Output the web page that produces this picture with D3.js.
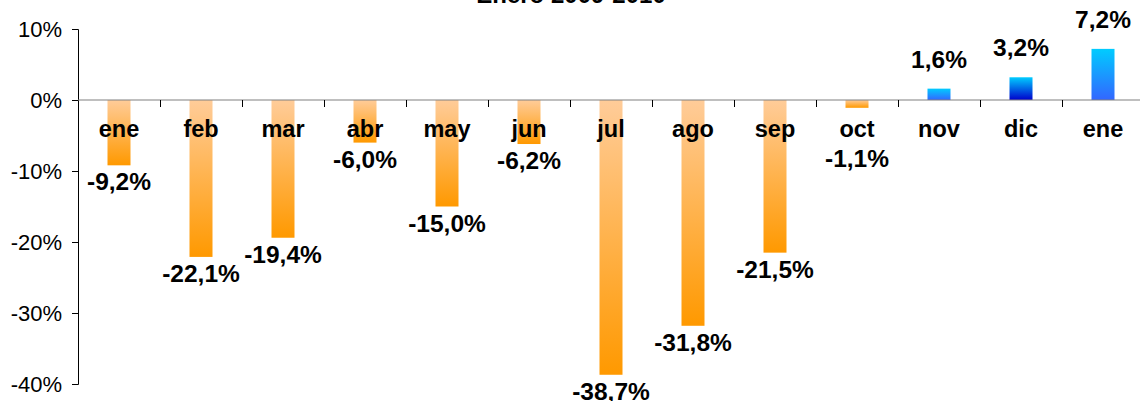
<!DOCTYPE html>
<html><head><meta charset="utf-8">
<script src="https://cdn.jsdelivr.net/npm/d3@7"></script>
<style>body{margin:0;background:#fff;}svg{display:block;font-family:"Liberation Sans",Arial,sans-serif;}</style>
</head><body>
<svg id="c" width="1140" height="401"></svg>
<script>
const title = "Enero 2009-2010";
const categories = ["ene","feb","mar","abr","may","jun","jul","ago","sep","oct","nov","dic","ene"];
const values = [-9.2,-22.1,-19.4,-6.0,-15.0,-6.2,-38.7,-31.8,-21.5,-1.1,1.6,3.2,7.2];
const yTicks = [10,0,-10,-20,-30,-40];
const posBottomColors = ["#3366FF","#0000CC","#3366FF"];

const svg = d3.select("#c");
const x = d3.scaleBand().domain(d3.range(categories.length)).range([78,1144]);
const y = d3.scaleLinear().domain([-40,10]).range([384,29]);
const fmt = v => (v.toFixed(1).replace(".", ",")) + "%";

const defs = svg.append("defs");
const og = defs.append("linearGradient").attr("id","gOrange").attr("x1",0).attr("y1",0).attr("x2",0).attr("y2",1);
og.append("stop").attr("offset","0%").attr("stop-color","#FFCC99");
og.append("stop").attr("offset","100%").attr("stop-color","#FF9900");
posBottomColors.forEach((c,i)=>{
  const g = defs.append("linearGradient").attr("id","gBlue"+i).attr("x1",0).attr("y1",0).attr("x2",0).attr("y2",1);
  g.append("stop").attr("offset","0%").attr("stop-color","#00CCFF");
  g.append("stop").attr("offset","100%").attr("stop-color",c);
});

// title (mostly clipped at top, as in the reference)
svg.append("text").attr("x",571).attr("y",3).attr("text-anchor","middle")
  .attr("font-weight","bold").attr("font-size",24).text(title);

// bars
const bw = 23;
let posIdx = 0;
const fills = values.map(v => v < 0 ? "url(#gOrange)" : "url(#gBlue" + (posIdx++) + ")");
svg.append("g").selectAll("rect").data(values).join("rect")
  .attr("x",(d,i)=>x(i)+x.bandwidth()/2-bw/2)
  .attr("width",bw)
  .attr("y",d=>Math.min(y(d),y(0)))
  .attr("height",d=>Math.abs(y(d)-y(0)))
  .attr("fill",(d,i)=>fills[i]);

// y axis
const ya = d3.axisLeft(y).tickValues(yTicks).tickSize(6).tickPadding(10).tickFormat(d=>d+"%");
const yg = svg.append("g").attr("transform","translate(78,0)").call(ya);
yg.select(".domain").attr("stroke","#000").attr("d","M-6,29.5H0.5V384.5H-6");
yg.selectAll(".tick line").attr("stroke","#000");
yg.selectAll(".tick text").attr("font-size",22).attr("font-family","Liberation Sans, Arial, sans-serif").attr("fill","#000");

// zero line with ticks at band boundaries
const zg = svg.append("g");
zg.append("line").attr("x1",78).attr("x2",1140).attr("y1",y(0)).attr("y2",y(0)).attr("stroke","#808080").attr("stroke-width",1.2);
zg.selectAll("line.t").data(d3.range(1,categories.length)).join("line").attr("class","t")
  .attr("x1",i=>Math.round(x(i))+0.5).attr("x2",i=>Math.round(x(i))+0.5)
  .attr("y1",y(0)).attr("y2",y(0)+7).attr("stroke","#000");

// category labels
svg.append("g").selectAll("text").data(categories).join("text")
  .attr("x",(d,i)=>x(i)+x.bandwidth()/2).attr("y",137)
  .attr("text-anchor","middle").attr("font-weight","bold").attr("font-size",23.5).text(d=>d);

// value labels
svg.append("g").selectAll("text").data(values).join("text")
  .attr("x",(d,i)=>x(i)+x.bandwidth()/2)
  .attr("y",d=> d<0 ? Math.max(y(d)+25,167) : y(d)-21)
  .attr("text-anchor","middle").attr("font-weight","bold").attr("font-size",24.5).text(fmt);
</script>
</body></html>
